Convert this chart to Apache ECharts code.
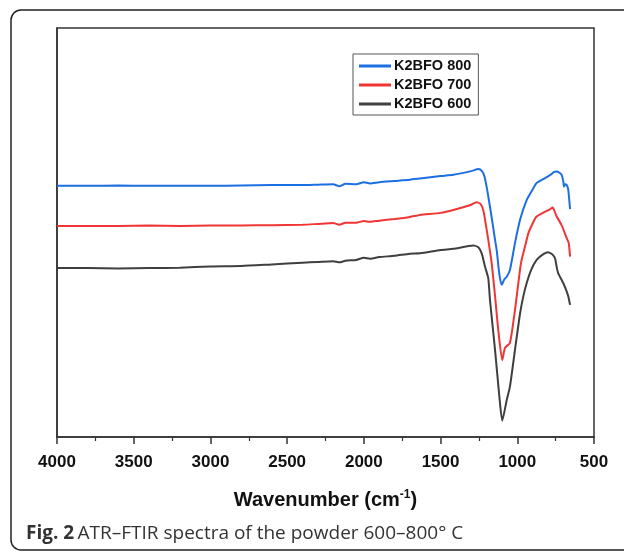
<!DOCTYPE html>
<html>
<head>
<meta charset="utf-8">
<script src="https://cdn.jsdelivr.net/npm/echarts@6/dist/echarts.min.js"></script>
<style>
  html, body { margin: 0; padding: 0; background: #fff; }
</style>
</head>
<body>
<div id="chart" style="width:624px;height:552px"></div>
<script>
// wavenumber (cm-1) and transmittance (a.u.)
var wn800 = [4000, 3800, 3600, 3400, 3200, 3000, 2800, 2600, 2400, 2300, 2200, 2160, 2120, 2050, 2000, 1960, 1900, 1800, 1700, 1634, 1500, 1417, 1300, 1254, 1230, 1215, 1200, 1178, 1160, 1145, 1134, 1117, 1102, 1085, 1069, 1048, 1015, 982, 939, 900, 874, 819, 780, 760, 743, 725, 711, 700, 696, 688, 678, 668, 656];
var t800  = [61.4, 61.4, 61.5, 61.4, 61.4, 61.4, 61.5, 61.6, 61.6, 61.7, 61.8, 61.3, 61.9, 61.8, 62.3, 62.0, 62.3, 62.6, 62.9, 63.2, 63.8, 64.1, 65.0, 65.5, 65.0, 63.8, 61.2, 56.3, 52.0, 48.2, 45.6, 39.8, 37.2, 38.5, 39.2, 40.8, 47.4, 53.1, 57.9, 60.5, 62.1, 63.3, 64.2, 64.8, 64.9, 64.6, 64.1, 62.5, 61.2, 61.8, 61.6, 60.5, 55.7];

var wn700 = [4000, 3800, 3600, 3400, 3200, 3000, 2800, 2600, 2400, 2300, 2200, 2160, 2120, 2050, 2000, 1960, 1900, 1800, 1700, 1634, 1500, 1417, 1300, 1265, 1240, 1222, 1210, 1189, 1167, 1145, 1124, 1098, 1080, 1048, 1015, 976, 950, 928, 900, 874, 819, 790, 769, 755, 743, 711, 690, 678, 665, 656];
var t700  = [51.6, 51.6, 51.6, 51.7, 51.6, 51.7, 51.7, 51.8, 51.9, 52.1, 52.3, 51.9, 52.4, 52.4, 52.8, 52.6, 52.9, 53.3, 53.8, 54.3, 54.8, 55.5, 56.8, 57.4, 57.0, 55.5, 53.1, 48.2, 42.5, 34.5, 26.2, 18.8, 21.8, 23.0, 31.1, 42.5, 46.5, 49.8, 52.2, 53.9, 55.1, 55.6, 56.1, 55.0, 53.9, 51.8, 49.8, 48.6, 47.5, 44.1];

var wn600 = [4000, 3800, 3600, 3400, 3200, 3000, 2800, 2600, 2400, 2300, 2200, 2160, 2120, 2050, 2000, 1960, 1900, 1800, 1700, 1634, 1500, 1417, 1287, 1254, 1232, 1210, 1189, 1178, 1145, 1117, 1098, 1069, 1048, 1015, 982, 960, 939, 910, 874, 830, 800, 791, 770, 754, 743, 733, 700, 680, 667, 656];
var t600  = [41.3, 41.3, 41.2, 41.3, 41.4, 41.7, 41.8, 42.2, 42.6, 42.8, 43.0, 42.7, 43.1, 43.3, 43.8, 43.6, 44.0, 44.3, 44.8, 44.9, 45.7, 46.0, 46.8, 46.4, 44.9, 41.6, 38.8, 33.5, 21.3, 9.9, 4.0, 9.0, 12.3, 21.3, 30.2, 34.5, 37.6, 40.8, 43.3, 44.7, 45.2, 45.1, 44.6, 43.7, 41.5, 40.0, 37.6, 35.8, 34.3, 32.3];

var seriesNames = ['K2BFO 800', 'K2BFO 700', 'K2BFO 600'];
var seriesColors = ['#1c6fe3', '#f03535', '#3f3f3f'];

function pairs(xs, ys) {
    var out = [];
    for (var i = 0; i < xs.length; i++) out.push([xs[i], ys[i]]);
    return out;
}

var myChart = echarts.init(document.getElementById('chart'));
var option = {
    animation: false,
    backgroundColor: '#fff',
    grid: {
        left: 57, right: 30, top: 28, bottom: 115,
        show: true, borderColor: '#333', borderWidth: 1.5
    },
    legend: {
        data: seriesNames,
        orient: 'vertical',
        left: 353, top: 54,
        borderColor: '#555', borderWidth: 1,
        padding: [4, 7, 3, 6],
        itemWidth: 32, itemHeight: 3, itemGap: 3,
        icon: 'rect',
        textStyle: { fontFamily: 'Liberation Sans', fontWeight: 'bold', fontSize: 14.5, lineHeight: 16, color: '#111', padding: [0, 0, 0, -2] }
    },
    xAxis: {
        type: 'value',
        inverse: true,
        min: 500, max: 4000, interval: 500,
        name: '{a|Wavenumber (cm}{s|-1}{a|)}',
        nameLocation: 'middle',
        nameGap: 52,
        nameTextStyle: {
            rich: {
                a: { fontFamily: 'Liberation Sans', fontWeight: 'bold', fontSize: 20, color: '#111' },
                s: { fontFamily: 'Liberation Sans', fontWeight: 'bold', fontSize: 12, color: '#111', verticalAlign: 'top', padding: [0, 0, 10, 0] }
            }
        },
        axisLine: { lineStyle: { color: '#333', width: 1.5 } },
        axisTick: { length: 7, lineStyle: { color: '#333', width: 1.5 } },
        minorTick: { show: true, splitNumber: 2, length: 4, lineStyle: { color: '#333', width: 1.2 } },
        axisLabel: {
            fontFamily: 'Liberation Sans', fontWeight: 'bold', fontSize: 17, color: '#111', margin: 17,
            formatter: function (v) { return String(v); }
        },
        splitLine: { show: false }
    },
    yAxis: {
        type: 'value',
        min: 0, max: 100,
        axisLine: { show: true, lineStyle: { color: '#333', width: 1.5 } },
        axisTick: { show: false },
        axisLabel: { show: false },
        splitLine: { show: false }
    },
    series: [
        { name: seriesNames[0], type: 'line', showSymbol: false, smooth: 0.2, data: pairs(wn800, t800), lineStyle: { width: 2, color: seriesColors[0] }, itemStyle: { color: seriesColors[0] } },
        { name: seriesNames[1], type: 'line', showSymbol: false, smooth: 0.2, data: pairs(wn700, t700), lineStyle: { width: 2, color: seriesColors[1] }, itemStyle: { color: seriesColors[1] } },
        { name: seriesNames[2], type: 'line', showSymbol: false, smooth: 0.2, data: pairs(wn600, t600), lineStyle: { width: 2, color: seriesColors[2] }, itemStyle: { color: seriesColors[2] } }
    ],
    graphic: [
        {
            type: 'rect',
            shape: { x: 11, y: 10, width: 640, height: 540, r: 10 },
            style: { fill: 'none', stroke: '#222', lineWidth: 1.5 },
            silent: true
        },
        {
            type: 'text',
            left: 26, top: 524,
            style: {
                text: '{b|Fig. 2} {r|ATR–FTIR spectra of the powder 600–800° C}',
                rich: {
                    b: { fontFamily: 'Open Sans', fontWeight: 'bold', fontSize: 19, fill: '#333' },
                    r: { fontFamily: 'Open Sans', fontSize: 19, fill: '#333' }
                }
            }
        }
    ]
};
myChart.setOption(option, true);
</script>
</body>
</html>
